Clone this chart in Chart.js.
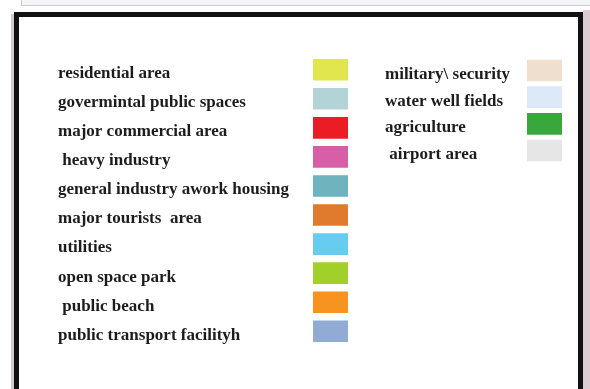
<!DOCTYPE html>
<html>
<head>
<meta charset="utf-8">
<script src="https://cdn.jsdelivr.net/npm/chart.js@4/dist/chart.umd.min.js"></script>
<style>
  body { margin:0; width:590px; height:389px; background:#fff; position:relative; overflow:hidden; }
  #topStrip { position:absolute; left:21px; top:-1px; width:580px; height:5px; background:#f2f4f7; border:1px solid #c9ccd2; }
  #sideStrip { position:absolute; left:583px; top:10px; width:7px; height:379px; background:#d9cdd3; }
  #leftShade { position:absolute; left:11px; top:14px; width:3px; height:375px; background:#d6c8c8; }
  #frame { position:absolute; left:14px; top:12px; width:559px; height:372px; border:5px solid #111; border-bottom-width:4px; background:#fff; }
  .box { position:absolute; }
</style>
</head>
<body>
<div id="topStrip"></div>
<div id="sideStrip"></div>
<div id="leftShade"></div>
<div id="frame"></div>
<div class="box" style="left:58px;top:45px;width:290px;height:311px"><canvas id="leftChart"></canvas></div>
<div class="box" style="left:385px;top:47px;width:177px;height:127px"><canvas id="rightChart"></canvas></div>
<script>
// left column of the legend
const leftLabels = ['residential area', 'govermintal public spaces', 'major commercial area', ' heavy industry',
  'general industry awork housing', 'major tourists  area', 'utilities', 'open space park', ' public beach', 'public transport facilityh'];
const leftColors = ['#e2e64e', '#b3d4d6', '#ec1c24', '#d75fa8', '#6eb3bd', '#e07a2c', '#66ccf0', '#a3cf2a', '#f7931e', '#90abd4'];
// right column
const rightLabels = ['military\\ security', 'water well fields', 'agriculture', ' airport area'];
const rightColors = ['#efdfcf', '#dde8f8', '#3aa73c', '#e6e6e6'];

// every swatch is the same size, one unit each
function swatches(labels) {
  return labels.map(() => 1);
}

function makeLegend(id, labels, colors, axisWidth) {
  const ctx = document.getElementById(id).getContext('2d');
  return new Chart(ctx, {
    type: 'bar',
    data: {
      labels: labels,
      datasets: [{
        data: swatches(labels),
        backgroundColor: colors,
        borderWidth: 0,
        barThickness: 21
      }]
    },
    options: {
      indexAxis: 'y',
      responsive: true,
      maintainAspectRatio: false,
      animation: false,
      layout: { padding: 0 },
      plugins: { legend: { display: false }, tooltip: { enabled: false } },
      scales: {
        x: { display: false, min: 0, max: 1 },
        y: {
          grid: { display: false, drawTicks: false },
          border: { display: false },
          afterFit: function(scale) { scale.width = axisWidth; },
          ticks: {
            crossAlign: 'far',
            padding: 0,
            labelOffset: 4,
            autoSkip: false,
            color: '#1c1c1c',
            font: { family: 'Liberation Serif', size: 17, weight: 'bold' }
          }
        }
      }
    }
  });
}

makeLegend('leftChart', leftLabels, leftColors, 255);
makeLegend('rightChart', rightLabels, rightColors, 142);
</script>
</body>
</html>
